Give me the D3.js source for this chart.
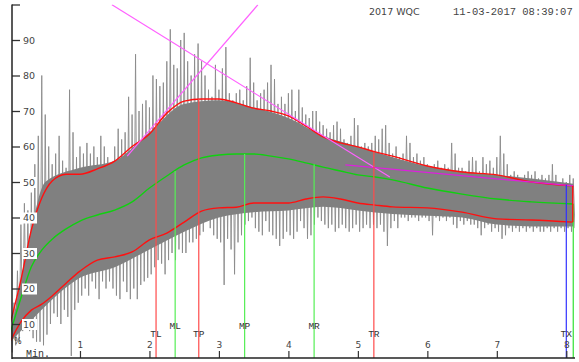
<!DOCTYPE html>
<html><head><meta charset="utf-8">
<script src="https://cdn.jsdelivr.net/npm/d3@7"></script>
<style>html,body{margin:0;padding:0;background:#fff;overflow:hidden}</style>
</head><body><svg id="c" width="579" height="362"></svg>
<script>
// ---------- DATA ----------
const titleText = "2017 WQC";
const stampText = "11-03-2017 08:39:07";
const sampleStep = 0.05; // minutes between signal samples
const sigHigh = [10,16,25,38,44,42,47,55,63,80,69,60,55,58,63,56,54,76,64,57,60,58,61,58,60,57,63,60,
  57,55,60,65,62,64,74,69,86,70,72,73,71,80,79,77,78,84,93,83,82,90,92,84,80,86,89,84,
  80,76,74,83,76,82,88,75,73,75,76,73,77,85,78,73,75,76,78,83,79,72,74,72,75,76,70,
  76,71,69,68,70,70,67,66,65,64,66,67,65,62,61,63,68,66,60,61,60,61,63,62,65,66,61,
  58,60,57,58,63,61,57,58,56,57,55,54,55,56,54,55,54,61,58,54,54,53,56,57,56,53,57,
  55,56,54,57,63,58,55,52,53,52,51,52,53,52,53,51,52,51,52,55,52,50,51,50,52,51];
const sigLow = [2,4,5,8,10,8,6,5,5,4,7,10,13,12,10,14,12,1,14,16,18,20,18,22,20,17,22,20,
  22,20,18,17,22,19,17,20,17,21,22,23,24,26,28,27,24,28,30,28,31,30,30,33,33,34,35,36,
  39,37,35,34,33,21,34,31,24,33,35,38,39,40,37,36,35,39,36,35,34,32,34,36,35,34,36,
  39,37,34,35,38,40,39,38,37,38,36,37,38,37,36,37,38,36,37,38,37,38,37,38,36,32,37,
  39,37,40,40,39,40,40,39,40,40,39,35,40,39,40,39,40,38,37,39,38,39,38,38,37,35,37,
  38,36,37,36,34,35,37,36,37,36,37,36,37,36,37,36,36,37,36,37,36,37,36,37,36,37];
const coreT  = [0, 0.25, 0.5, 1.0, 1.5, 2.0, 2.5, 3.0, 3.5, 4.0, 4.5, 5.0, 5.5, 6.0, 6.5, 7.0, 7.5, 8.1];
const coreHi = [7, 32, 50, 54, 56, 64, 72, 73, 71, 68, 63, 60, 57, 54.5, 53, 52, 51, 49.5];
const coreLo = [5, 10, 15, 23, 26, 31, 36, 40, 41.5, 42, 43, 42, 41, 40.5, 40, 38, 37.5, 37.5];

const curveT    = [0,0.15,0.3,0.45,0.6,0.8,1.0,1.25,1.5,1.75,2.0,2.25,2.5,2.75,3.0,3.25,3.5,3.75,4.0,4.25,4.5,4.75,5.0,5.25,5.5,6.0,6.5,7.0,7.5,8.1];
const upperBand = [10.5,22.4,36.5,45.5,50.3,52.2,52.2,53.7,55.9,60,63.5,69.4,72.8,73.4,73.4,72.3,70.8,70.0,68.6,65.8,62.7,61.0,59.9,58.5,57.3,54.5,52.8,52.0,50.0,48.9];
const meanLine  = [7.7,17.3,26.1,30.8,33.9,36.8,39.0,40.7,42.1,44.4,48.3,51.7,54.8,56.8,57.6,57.9,57.9,57.3,56.5,55.4,54.2,53.1,52.0,51.4,50.6,48.3,46.6,45.2,44.4,43.8];
const lowerBand = [5.2,10.6,13.9,15.6,17.9,21.5,24.9,28.0,28.9,30.3,33.7,35.6,38.7,41.8,42.7,42.9,44.1,44.1,44.1,45.2,45.8,45.2,44.1,43.5,43.0,42.7,41.5,39.6,39.3,38.7];

const trendStartT = [1.46, 1.68, 4.82];
const trendStartV = [99.9, 57.3, 54.8];
const trendEndT   = [5.46, 3.56, 8.10];
const trendEndV   = [51.4, 99.9, 48.9];

const markerNames = ["TL","ML","TP","MP","MR","TR","TX"];
const markerTimes = [2.095, 2.37, 2.71, 3.37, 4.37, 5.23, 8.0];
const markerTops  = [66.6, 53.1, 73.4, 57.9, 55.0, 58.5, 49.2];

const xTickValues = [1,2,3,4,5,6,7,8];
const yTickValues = [10,20,30,40,50,60,70,80,90,100];
const yTickLabels = ["10","20","30","40","50","60","70","80","90",""];
const xUnitLabel = "Min.";
const yUnitLabel = "%";

// ---------- LAYOUT ----------
const svg = d3.select("#c");
const x = d3.scaleLinear().domain([0, 8]).range([10.5, 566.3]);
const y = d3.scaleLinear().domain([0, 100]).range([359.5, 4.5]);
const axisY = 358, axisX = 12, rightEdge = 575;

svg.append("defs").append("clipPath").attr("id","plot")
  .append("rect").attr("x", 11).attr("y", y(100)).attr("width", rightEdge - 11).attr("height", axisY - y(100));

const plot = svg.append("g").attr("clip-path","url(#plot)");

// oscillating signal (zig-zag between each sample's high and low)
const zig = [];
sigHigh.forEach((h,i)=>{ zig.push([i*sampleStep, h]); zig.push([i*sampleStep + sampleStep/2, sigLow[i]]); });
plot.append("path").datum(zig)
  .attr("d", d3.line().x(d=>x(d[0])).y(d=>y(d[1])))
  .attr("fill","none").attr("stroke","#8a8a8a").attr("stroke-width",0.9);

// dense core of the signal
const coreData = coreT.map((t,i)=>({t, hi: coreHi[i], lo: coreLo[i]}));
plot.append("path").datum(coreData)
  .attr("d", d3.area().x(d=>x(d.t)).y0(d=>y(d.lo)).y1(d=>y(d.hi)).curve(d3.curveMonotoneX))
  .attr("fill","#808080");

// bands
const lineGen = d3.line().x(d=>x(d[0])).y(d=>y(d[1])).curve(d3.curveMonotoneX);
const bandStyle = [[upperBand,"#ff1010"],[lowerBand,"#ff1010"],[meanLine,"#10d010"]];
bandStyle.forEach(([vals,col])=>{
  plot.append("path").datum(curveT.map((t,i)=>[t, vals[i]]))
    .attr("d", lineGen).attr("fill","none").attr("stroke", col).attr("stroke-width", 1.4);
});

// trend lines
const trendCols = ["#ff60ff","#ff60ff","#dd20dd"];
trendStartT.forEach((t,i)=>{
  plot.append("line")
    .attr("x1", x(t)).attr("y1", y(trendStartV[i]))
    .attr("x2", x(trendEndT[i])).attr("y2", y(trendEndV[i]))
    .attr("stroke", trendCols[i]).attr("stroke-width", 1.2);
});

// end lines
const endT = curveT[curveT.length-1];
plot.append("line").attr("x1", x(endT)).attr("x2", x(endT))
  .attr("y1", y(meanLine[meanLine.length-1])).attr("y2", axisY)
  .attr("stroke","#30e030").attr("stroke-width",1.2);
plot.append("line").attr("x1", x(endT)-0.5).attr("x2", x(endT)-0.5)
  .attr("y1", y(upperBand[upperBand.length-1])).attr("y2", y(lowerBand[lowerBand.length-1]))
  .attr("stroke","#ff1010").attr("stroke-width",1.4);

// markers
const markerColor = n => n[0]==="M" ? "#55ee55" : (n==="TX" ? "#3030ff" : "#ff4a4a");
const markerLabelY = n => n[0]==="M" ? 328.5 : 336.5;
markerNames.forEach((n,i)=>{
  plot.append("line").attr("x1", x(markerTimes[i])).attr("x2", x(markerTimes[i]))
    .attr("y1", y(markerTops[i])).attr("y2", axisY)
    .attr("stroke", markerColor(n)).attr("stroke-width", 1.2);
});
svg.append("g").selectAll("text").data(markerNames).join("text")
  .attr("x", (n,i)=>x(markerTimes[i])).attr("y", n=>markerLabelY(n))
  .attr("text-anchor","middle")
  .attr("font-family","'Liberation Mono', monospace").attr("font-size","9.5px")
  .attr("fill","#333").text(n=>n);

// y axis
const yAxis = svg.append("g").attr("transform",`translate(${axisX},0)`)
  .call(d3.axisRight(y).tickValues(yTickValues).tickSize(8).tickSizeOuter(0).tickPadding(3)
    .tickFormat((d,i)=>yTickLabels[i]));
yAxis.select(".domain").remove();
yAxis.selectAll(".tick line").attr("stroke","#333").attr("stroke-width",1.3);
yAxis.selectAll(".tick").each(function(d,i){
  if (!yTickLabels[i]) return;
  d3.select(this).insert("rect","text").attr("x",10).attr("y",-5.5).attr("width",15).attr("height",11).attr("fill","#fff");
});
yAxis.selectAll(".tick text").attr("font-family","'DejaVu Sans', sans-serif").attr("font-size","9.5px").attr("fill","#444");
svg.append("line").attr("x1",axisX).attr("x2",axisX).attr("y1",y(100)).attr("y2",axisY+1)
  .attr("stroke","#222").attr("stroke-width",1.5);

// x axis
const xAxis = svg.append("g").attr("transform",`translate(0,${axisY})`)
  .call(d3.axisTop(x).tickValues(xTickValues).tickSize(7).tickSizeOuter(0).tickPadding(3).tickFormat(d3.format("d")));
xAxis.select(".domain").remove();
xAxis.selectAll(".tick line").attr("stroke","#333").attr("stroke-width",1.2);
xAxis.selectAll(".tick text").attr("font-family","'DejaVu Sans', sans-serif").attr("font-size","9px").attr("fill","#444");
svg.append("line").attr("x1",axisX).attr("x2",rightEdge).attr("y1",axisY).attr("y2",axisY)
  .attr("stroke","#222").attr("stroke-width",1.6);

// unit labels
svg.append("text").attr("x",26).attr("y",357).attr("font-family","'Liberation Mono', monospace")
  .attr("font-size","10px").attr("fill","#333").text(xUnitLabel);
svg.append("text").attr("x",14).attr("y",344).attr("font-family","'DejaVu Sans', sans-serif")
  .attr("font-size","8px").attr("fill","#333").text(yUnitLabel);

// header
svg.append("text").attr("x",369).attr("y",15).attr("font-family","'DejaVu Sans', sans-serif")
  .attr("font-size","9.5px").attr("fill","#444").text(titleText);
svg.append("text").attr("x",453).attr("y",15).attr("font-family","'Liberation Mono', monospace")
  .attr("font-size","10.5px").attr("fill","#444").text(stampText);
</script></body></html>
